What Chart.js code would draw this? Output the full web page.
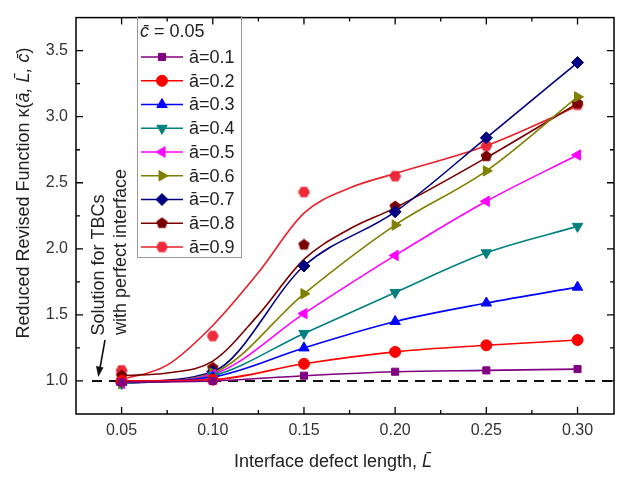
<!DOCTYPE html>
<html>
<head>
<meta charset="utf-8">
<script src="https://cdn.jsdelivr.net/npm/chart.js@4.4.0/dist/chart.umd.min.js"></script>
<style>
  html,body{margin:0;padding:0;background:#fff}
  #wrap{width:621px;height:477px;position:relative}
</style>
</head>
<body>
<div id="wrap"><canvas id="chart" width="621" height="477"></canvas></div>
<script>
// data
const xValues = [0.05, 0.10, 0.15, 0.20, 0.25, 0.30];
const a01 = [0.99, 1.00, 1.04, 1.07, 1.08, 1.09];
const a02 = [1.00, 1.01, 1.13, 1.22, 1.27, 1.31];
const a03 = [0.99, 1.03, 1.25, 1.45, 1.59, 1.71];
const a04 = [0.98, 1.04, 1.36, 1.67, 1.97, 2.17];
const a05 = [0.98, 1.05, 1.51, 1.95, 2.36, 2.71];
const a06 = [0.98, 1.06, 1.66, 2.18, 2.59, 3.15];
const a07 = [0.99, 1.07, 1.87, 2.28, 2.84, 3.41];
const a08 = [1.04, 1.10, 2.03, 2.32, 2.70, 3.10];
const a09 = [1.08, 1.34, 2.43, 2.55, 2.78, 3.09];
// fitted curves drawn for a=0.8 and a=0.9
const fitX  = [0.05, 0.075, 0.10, 0.125, 0.15, 0.175, 0.20, 0.25, 0.30];
const fit08 = [1.04, 1.06, 1.15, 1.50, 1.92, 2.15, 2.31, 2.69, 3.10];
const fit09 = [1.01, 1.12, 1.42, 1.82, 2.27, 2.46, 2.57, 2.78, 3.08];
const xTicks = [0.05, 0.10, 0.15, 0.20, 0.25, 0.30];
const xMinor = [0.075, 0.125, 0.175, 0.225, 0.275];
const yTicks = [1.0, 1.5, 2.0, 2.5, 3.0, 3.5];
const yMinor = [1.25, 1.75, 2.25, 2.75, 3.25];
const seriesNames = ['\u0101=0.1','\u0101=0.2','\u0101=0.3','\u0101=0.4','\u0101=0.5','\u0101=0.6','\u0101=0.7','\u0101=0.8','\u0101=0.9'];
const refValue = 1.0;

const FONT = 'Arial, "Liberation Sans", sans-serif';

function polyMarker(n, color, size, rot){
  const c = document.createElement('canvas');
  c.width = c.height = size;
  const g = c.getContext('2d');
  g.fillStyle = color;
  g.beginPath();
  const r = size/2 - 0.5;
  for(let i=0;i<n;i++){
    const ang = rot + i*2*Math.PI/n;
    const px = size/2 + r*Math.cos(ang), py = size/2 + r*Math.sin(ang);
    i ? g.lineTo(px,py) : g.moveTo(px,py);
  }
  g.closePath(); g.fill();
  return c;
}
const pentagon = polyMarker(5, '#7a0000', 13, -Math.PI/2);
const hexagon = polyMarker(6, '#ee2a3c', 13, 0);

const styles = [
  { vals:a01, color:'#800080', point:'rect', rot:0, r:5 },
  { vals:a02, color:'#ff0000', point:'circle', rot:0, r:5.5 },
  { vals:a03, color:'#0000ff', point:'triangle', rot:0, r:6 },
  { vals:a04, color:'#008080', point:'triangle', rot:180, r:6 },
  { vals:a05, color:'#ff00ff', point:'triangle', rot:-90, r:6 },
  { vals:a06, color:'#808000', point:'triangle', rot:90, r:6 },
  { vals:a07, color:'#000080', point:'rectRot', rot:0, r:6 },
  { vals:a08, color:'#7a0000', point:pentagon, rot:0, r:6, fit:fit08, line:'#7a0000' },
  { vals:a09, color:'#ee2a3c', point:hexagon, rot:0, r:6, fit:fit09, line:'#e8202a' }
];

const datasets = [];
styles.forEach((s, i) => {
  const pts = xValues.map((x, j) => ({ x, y: s.vals[j] }));
  if (s.fit) {
    datasets.push({
      label: seriesNames[i] + ' fit',
      data: fitX.map((x, j) => ({ x, y: s.fit[j] })),
      borderColor: s.line, borderWidth: 1.6, pointRadius: 0,
      cubicInterpolationMode: 'monotone', fill: false
    });
    datasets.push({
      label: seriesNames[i], data: pts, showLine: false,
      pointStyle: s.point, pointRadius: s.r, pointBackgroundColor: s.color,
      pointBorderColor: s.color, pointBorderWidth: 1
    });
  } else {
    datasets.push({
      label: seriesNames[i], data: pts,
      borderColor: s.color, backgroundColor: s.color, borderWidth: 1.6,
      pointStyle: s.point, rotation: s.rot, pointRadius: s.r,
      pointBackgroundColor: s.color, pointBorderColor: s.color, pointBorderWidth: 1,
      cubicInterpolationMode: 'monotone', fill: false
    });
  }
});

function drawMarker(ctx, s, x, y){
  ctx.save();
  ctx.fillStyle = s.color; ctx.strokeStyle = s.color; ctx.lineWidth = 1;
  if (Chart.helpers && Chart.helpers.drawPoint) {
    Chart.helpers.drawPoint(ctx, { pointStyle: s.point, rotation: s.rot, radius: s.r, borderWidth: 1 }, x, y);
  } else {
    ctx.beginPath(); ctx.arc(x, y, s.r, 0, Math.PI*2); ctx.fill();
  }
  ctx.restore();
}

const decor = {
  id: 'decor',
  beforeDatasetsDraw(chart){
    const { ctx, chartArea: ca, scales: { x, y } } = chart;
    // reference line for perfect interface
    ctx.save();
    ctx.strokeStyle = '#111'; ctx.lineWidth = 2; ctx.setLineDash([10, 7]);
    const yy = y.getPixelForValue(refValue);
    ctx.beginPath(); ctx.moveTo(ca.left + 16, yy); ctx.lineTo(ca.right, yy); ctx.stroke();
    ctx.restore();
  },
  afterDraw(chart){
    const { ctx, chartArea: ca, scales: { x, y } } = chart;
    ctx.save();
    // frame
    ctx.strokeStyle = '#000'; ctx.lineWidth = 1.5;
    ctx.strokeRect(ca.left, ca.top, ca.right - ca.left, ca.bottom - ca.top);
    // inward ticks on all four sides
    ctx.lineWidth = 1.3;
    ctx.beginPath();
    xTicks.forEach(v => { const p = x.getPixelForValue(v);
      ctx.moveTo(p, ca.bottom); ctx.lineTo(p, ca.bottom - 7);
      ctx.moveTo(p, ca.top); ctx.lineTo(p, ca.top + 7); });
    xMinor.forEach(v => { const p = x.getPixelForValue(v);
      ctx.moveTo(p, ca.bottom); ctx.lineTo(p, ca.bottom - 4);
      ctx.moveTo(p, ca.top); ctx.lineTo(p, ca.top + 4); });
    yTicks.forEach(v => { const p = y.getPixelForValue(v);
      ctx.moveTo(ca.left, p); ctx.lineTo(ca.left + 7, p);
      ctx.moveTo(ca.right, p); ctx.lineTo(ca.right - 7, p); });
    yMinor.forEach(v => { const p = y.getPixelForValue(v);
      ctx.moveTo(ca.left, p); ctx.lineTo(ca.left + 4, p);
      ctx.moveTo(ca.right, p); ctx.lineTo(ca.right - 4, p); });
    ctx.stroke();

    // x axis title
    ctx.fillStyle = '#222';
    ctx.textBaseline = 'middle';
    const t1 = 'Interface defect length, ', t2 = 'L\u0304';
    ctx.font = '18px ' + FONT; const w1 = ctx.measureText(t1).width;
    ctx.font = 'italic 18px ' + FONT; const w2 = ctx.measureText(t2).width;
    let sx = 333 - (w1 + w2)/2;
    ctx.textAlign = 'left';
    ctx.font = '18px ' + FONT; ctx.fillText(t1, sx, 462);
    ctx.font = 'italic 18px ' + FONT; ctx.fillText(t2, sx + w1, 462);

    // y axis title (rotated)
    ctx.save();
    ctx.translate(24, 193); ctx.rotate(-Math.PI/2);
    const parts = [['Reduced Revised Function \u03ba(', ''], ['a\u0304, L\u0304, c\u0304', 'italic '], [')', '']];
    let total = 0;
    parts.forEach(p => { ctx.font = p[1] + '18px ' + FONT; p.w = ctx.measureText(p[0]).width; total += p.w; });
    let cx = -total/2;
    parts.forEach(p => { ctx.font = p[1] + '18px ' + FONT; ctx.fillText(p[0], cx, 0); cx += p.w; });
    ctx.restore();

    // annotation
    ctx.font = '18px ' + FONT; ctx.textAlign = 'center';
    ctx.save(); ctx.translate(99, 265); ctx.rotate(-Math.PI/2); ctx.fillText('Solution for TBCs', 0, 0); ctx.restore();
    ctx.save(); ctx.translate(121, 252); ctx.rotate(-Math.PI/2); ctx.fillText('with perfect interface', 0, 0); ctx.restore();
    ctx.strokeStyle = '#111'; ctx.fillStyle = '#111'; ctx.lineWidth = 1.6;
    ctx.beginPath(); ctx.moveTo(105, 340); ctx.lineTo(100, 368); ctx.stroke();
    ctx.beginPath(); ctx.moveTo(98.3, 377); ctx.lineTo(96, 366); ctx.lineTo(103.5, 367.5); ctx.closePath(); ctx.fill();

    // legend
    const lx = 137, ly = 16, lw = 104, lh = 241;
    ctx.strokeStyle = '#9a9a9a'; ctx.lineWidth = 1;
    ctx.strokeRect(lx + 0.5, ly + 0.5, lw, lh);
    ctx.fillStyle = '#222'; ctx.textAlign = 'left';
    ctx.font = 'italic 18px ' + FONT; ctx.fillText('c\u0304', 140, 32);
    const cw = ctx.measureText('c\u0304').width;
    ctx.font = '18px ' + FONT; ctx.fillText(' = 0.05', 140 + cw, 32);
    styles.forEach((s, i) => {
      const ry = 57 + i*23.75;
      ctx.strokeStyle = s.line || s.color; ctx.lineWidth = 1.6;
      ctx.beginPath(); ctx.moveTo(141, ry); ctx.lineTo(183, ry); ctx.stroke();
      drawMarker(ctx, s, 162, ry);
      ctx.fillStyle = '#222'; ctx.font = '18px ' + FONT;
      ctx.fillText(seriesNames[i], 189, ry + 1);
    });
    ctx.restore();
  }
};

new Chart(document.getElementById('chart'), {
  type: 'line',
  data: { datasets },
  options: {
    responsive: false,
    animation: false,
    parsing: true,
    layout: { padding: { left: 0, top: 6, right: 2, bottom: 0 } },
    plugins: { legend: { display: false }, tooltip: { enabled: false } },
    scales: {
      x: {
        type: 'linear', min: 0.025, max: 0.32,
        afterBuildTicks: s => { s.ticks = xTicks.map(v => ({ value: v })); },
        afterFit: s => { s.height = 63; },
        grid: { display: false, drawTicks: false },
        border: { display: false },
        ticks: { callback: v => v.toFixed(2), color: '#333', font: { size: 16, family: FONT }, padding: 7, maxRotation: 0, autoSkip: false }
      },
      y: {
        type: 'linear', min: 0.75, max: 3.75,
        afterBuildTicks: s => { s.ticks = yTicks.map(v => ({ value: v })); },
        afterFit: s => { s.width = 76; },
        grid: { display: false, drawTicks: false },
        border: { display: false },
        ticks: { callback: v => v.toFixed(1), color: '#333', font: { size: 16, family: FONT }, padding: 8 }
      }
    }
  },
  plugins: [decor]
});
</script>
</body>
</html>
